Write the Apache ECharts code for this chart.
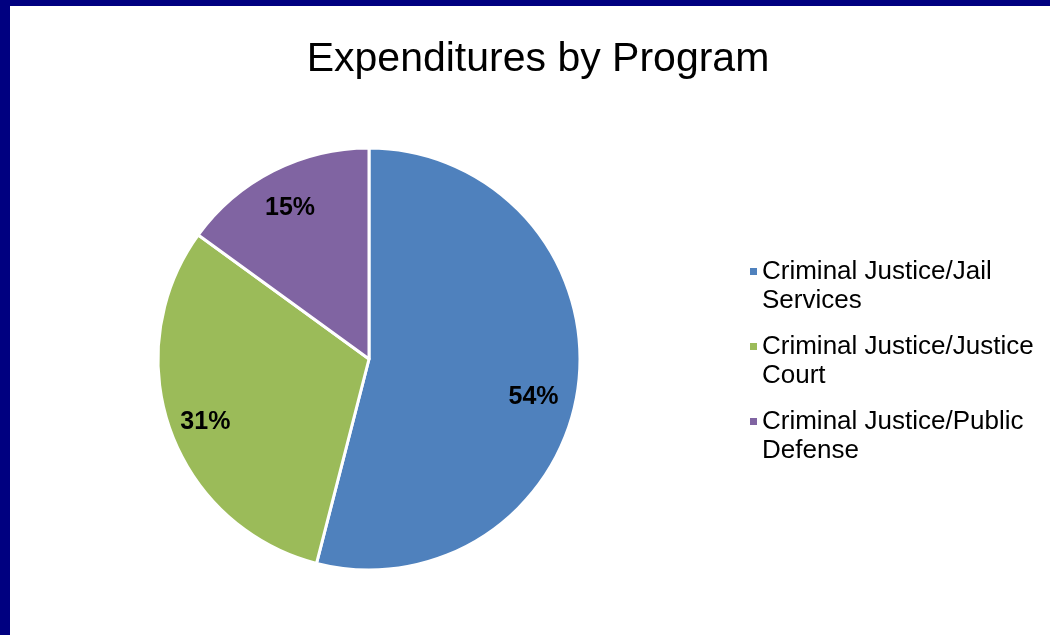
<!DOCTYPE html>
<html>
<head>
<meta charset="utf-8">
<title>Expenditures by Program</title>
<script src="https://cdn.jsdelivr.net/npm/echarts@6/dist/echarts.min.js"></script>
<style>
  html, body { margin: 0; padding: 0; background: #000080; }
  body { width: 1050px; height: 635px; position: relative; overflow: hidden; }
  #chart { position: absolute; left: 10px; top: 6px; width: 1040px; height: 629px; background: #ffffff; }
</style>
</head>
<body>
<div id="chart"></div>
<script>
// Program expenditure shares (percent of total)
const programs = [
  'Criminal Justice/Jail\nServices',
  'Criminal Justice/Justice\nCourt',
  'Criminal Justice/Public\nDefense'
];
const shares = [54, 31, 15];
const colors = ['#4F81BD', '#9BBB59', '#8064A2'];

const FONT = '"Liberation Sans", Arial, sans-serif';
const R = 211;

const pieData = programs.map((name, i) => ({
  name: name,
  value: shares[i],
  itemStyle: { color: colors[i] }
}));

// Legend marker: a small square sitting at the top of a tall, otherwise empty box,
// so that it lines up with the first line of a two-line legend entry.
const LEGEND_LINE = 29;
const MARK = 7;
const markBoxH = MARK / 2 + LEGEND_LINE + MARK / 2;
const legendIcon = 'path://M0,0H' + MARK + 'V' + MARK + 'H0Z M0,' + markBoxH + 'H' + MARK;

const chart = echarts.init(document.getElementById('chart'), null, { renderer: 'canvas' });

chart.setOption({
  animation: false,
  backgroundColor: '#ffffff',
  title: {
    text: 'Expenditures by Program',
    left: 523,
    textAlign: 'center',
    top: 28,
    textStyle: { fontFamily: FONT, fontSize: 41, fontWeight: 'normal', color: '#000000' }
  },
  legend: {
    orient: 'vertical',
    left: 735,
    top: 246,
    itemWidth: MARK,
    itemHeight: markBoxH,
    itemGap: 17,
    icon: legendIcon,
    selectedMode: false,
    data: programs,
    itemStyle: { borderWidth: 0 },
    textStyle: {
      fontFamily: FONT,
      fontSize: 26,
      color: '#000000',
      lineHeight: LEGEND_LINE
    }
  },
  series: [
    {
      // slices
      type: 'pie',
      center: [359, 353],
      radius: [0, R],
      startAngle: 90,
      clockwise: true,
      label: { show: false },
      labelLine: { show: false },
      itemStyle: { borderColor: '#ffffff', borderWidth: 3 },
      emphasis: { disabled: true },
      silent: true,
      data: pieData
    },
    {
      // transparent ring carrying the percentage labels near the rim
      type: 'pie',
      center: [359, 353],
      radius: [R * 0.62, R],
      startAngle: 90,
      clockwise: true,
      silent: true,
      emphasis: { disabled: true },
      itemStyle: { color: 'rgba(0,0,0,0)', borderWidth: 0 },
      label: {
        show: true,
        position: 'inside',
        formatter: p => p.value + '%',
        fontFamily: FONT,
        fontSize: 25,
        fontWeight: 'bold',
        color: '#000000',
        offset: [0, 4]
      },
      labelLine: { show: false },
      data: programs.map((name, i) => ({
        name: name,
        value: shares[i],
        label: i === 0 ? { offset: [-8, 16] } : undefined
      }))
    }
  ]
});
</script>
</body>
</html>
